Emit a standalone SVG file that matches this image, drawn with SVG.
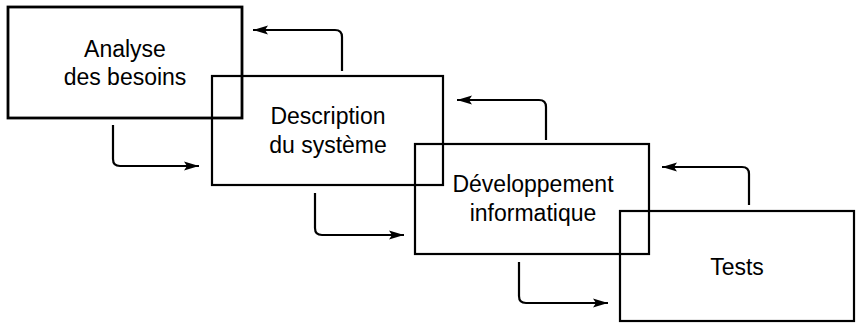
<svg xmlns="http://www.w3.org/2000/svg" width="856" height="323" viewBox="0 0 856 323">
<style>
.box{fill:none;stroke:#000;stroke-width:2.2}
.lbl{font-family:"Liberation Sans",Arial,sans-serif;font-size:23px;fill:#000;text-anchor:middle}
.con{fill:none;stroke:#000;stroke-width:2.2;marker-end:url(#ah)}
</style>
<defs>
<marker id="ah" markerUnits="userSpaceOnUse" markerWidth="16" markerHeight="12" viewBox="0 0 16 12" refX="15" refY="6" orient="auto">
<path d="M0,1.5 L15,6 L0,10.5 L3,6 Z" fill="#000"/>
</marker>
</defs>
<rect width="856" height="323" fill="#fff"/>
<g id="n1">
<rect class="box" x="8" y="7" width="234" height="111" style="stroke-width:2.8"/>
<text class="lbl" x="125" y="57">Analyse</text>
<text class="lbl" x="125" y="85">des besoins</text>
</g>
<g id="n2">
<rect class="box" x="212" y="76" width="231" height="109"/>
<text class="lbl" x="328" y="124">Description</text>
<text class="lbl" x="328" y="153">du système</text>
</g>
<g id="n3">
<rect class="box" x="415" y="144" width="234" height="110"/>
<text class="lbl" x="533" y="192">Développement</text>
<text class="lbl" x="533" y="221">informatique</text>
</g>
<g id="n4">
<rect class="box" x="620" y="211" width="234" height="110"/>
<text class="lbl" x="737" y="275">Tests</text>
</g>
<g id="connectors">
<path class="con" d="M113,125 V159 Q113,166 120,166 H199"/>
<path class="con" d="M315,193 V228 Q315,235 322,235 H404"/>
<path class="con" d="M519,262 V296 Q519,303 526,303 H608"/>
<path class="con" d="M342,71 V37 Q342,30 335,30 H253"/>
<path class="con" d="M546,140 V107 Q546,100 539,100 H457"/>
<path class="con" d="M749,205 V174 Q749,167 742,167 H662"/>
</g>
</svg>
